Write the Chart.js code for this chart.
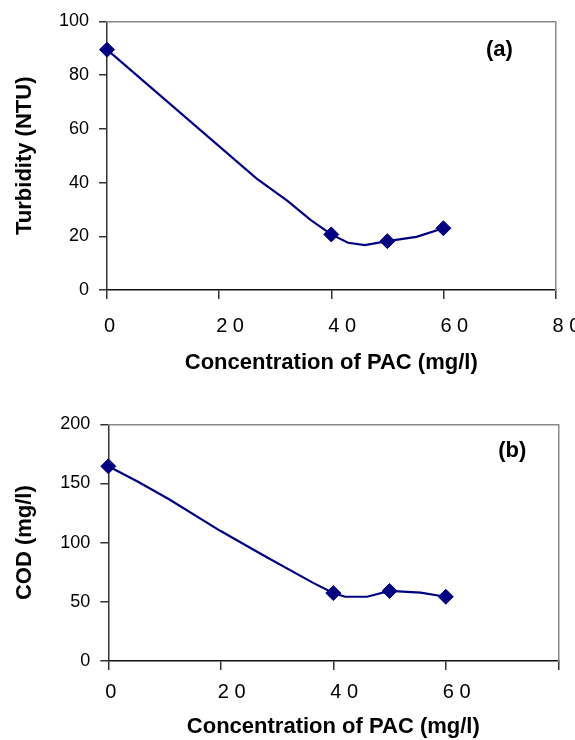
<!DOCTYPE html>
<html>
<head>
<meta charset="utf-8">
<script src="https://cdn.jsdelivr.net/npm/chart.js@4.4.0/dist/chart.umd.min.js"></script>
<style>
  html, body { margin: 0; padding: 0; background: #fff; }
  body { width: 575px; height: 740px; position: relative; overflow: hidden; }
  canvas { position: absolute; left: 0; }
  #chartA { top: 0; }
  #chartB { top: 390px; }
</style>
</head>
<body>
<canvas id="chartA" width="575" height="380"></canvas>
<canvas id="chartB" width="575" height="350"></canvas>
<script>
// PAC doses (mg/l) that were measured
const pacDose = [0, 40, 50, 60];
const turbidity = [89.5, 20.7, 18.2, 23.0];
const cod = [164.5, 57.4, 59.2, 54.3];

// the smoothed curve drawn through the samples
const curveDoseA = [0, 26.7, 32.2, 36.3, 40, 43, 46, 50, 55.2, 60];
const curveTurb = [89.5, 41.5, 33.2, 26.1, 20.7, 17.6, 16.7, 18.2, 19.8, 23.0];
const curveDoseB = [0, 5.2, 10.8, 19.9, 27.7, 36.5, 40, 42.1, 46, 50, 55.5, 60];
const curveCod = [164.5, 151.6, 136.7, 110, 88.9, 65.8, 57.4, 54.3, 54.3, 59.2, 57.7, 54.3];

const xTicksA = ['0', '2 0', '4 0', '6 0', '8 0'];
const xTicksB = ['0', '2 0', '4 0', '6 0', ''];

const navy = '#000080';
const sans = '"Liberation Sans", Arial, sans-serif';
const narrow = '"Liberation Sans Narrow", "Liberation Sans", Arial, sans-serif';

const toXY = (xs, ys) => xs.map((x, i) => ({ x: x, y: ys[i] }));

// writes the (a)/(b) tag inside the plot, placed in data units
const panelLabel = {
    id: 'panelLabel',
    afterDatasetsDraw(chart, args, opts) {
        const { ctx, scales } = chart;
        ctx.save();
        ctx.font = 'bold 22px ' + sans;
        ctx.fillStyle = '#000';
        ctx.textAlign = 'center';
        ctx.textBaseline = 'middle';
        ctx.fillText(opts.text, scales.x.getPixelForValue(opts.x), scales.y.getPixelForValue(opts.y));
        ctx.restore();
    }
};

const makeChart = function(id, p) {
    return new Chart(document.getElementById(id), {
        type: 'scatter',
        plugins: [panelLabel],
        data: {
            datasets: [{
                data: toXY(pacDose, p.values),
                pointStyle: 'rectRot',
                pointRadius: 7.5,
                backgroundColor: navy,
                borderColor: navy,
                borderWidth: 1,
                clip: false
            }, {
                data: toXY(p.curveX, p.curveY),
                showLine: true,
                borderColor: navy,
                borderWidth: 2.2,
                pointRadius: 0,
                tension: 0,
                clip: false
            }]
        },
        options: {
            responsive: false,
            animation: false,
            layout: { padding: { top: p.padTop, right: p.padRight, left: 0, bottom: 0 } },
            plugins: {
                legend: { display: false },
                tooltip: { enabled: false },
                panelLabel: p.label
            },
            scales: {
                x: {
                    type: 'linear',
                    position: 'bottom',
                    min: 0,
                    max: 80,
                    // fixed height, and let the last label run off the edge
                    afterFit: s => {
                        s.height = p.xHeight;
                        s.paddingLeft = 0;
                        s.paddingRight = 0;
                    },
                    grid: { drawOnChartArea: false, tickLength: 9, color: '#333', lineWidth: 1.5 },
                    border: { color: '#111', width: 1.5 },
                    ticks: {
                        stepSize: 20,
                        autoSkip: false,
                        maxRotation: 0,
                        align: 'start',
                        labelOffset: -3,
                        padding: p.xTickPad,
                        color: '#000',
                        font: { family: narrow, size: 20 },
                        callback: (v, i) => p.xLabels[i]
                    },
                    title: {
                        display: true,
                        text: 'Concentration of PAC (mg/l)',
                        color: '#000',
                        font: { family: sans, size: 22, weight: 'bold' },
                        padding: { top: 0, bottom: p.xTitlePad }
                    }
                },
                y: {
                    type: 'linear',
                    position: 'left',
                    min: 0,
                    max: p.yMax,
                    afterFit: s => { s.width = p.yWidth; },
                    grid: { drawOnChartArea: false, tickLength: 8, color: '#333', lineWidth: 1.5 },
                    border: { color: '#333', width: 1.5 },
                    ticks: {
                        stepSize: p.yStep,
                        padding: 10,
                        color: '#000',
                        font: { family: sans, size: 18 }
                    },
                    title: {
                        display: true,
                        text: p.yTitle,
                        color: '#000',
                        font: { family: sans, size: 22, weight: 'bold' },
                        padding: { top: 12, bottom: 0 }
                    }
                },
                // frame on the top and right side
                x2: {
                    type: 'linear',
                    position: 'top',
                    afterFit: s => { s.height = 0; },
                    grid: { display: false },
                    ticks: { display: false },
                    border: { color: '#888', width: 1.5 }
                },
                y2: {
                    type: 'linear',
                    position: 'right',
                    afterFit: s => { s.width = 0; },
                    grid: { display: false },
                    ticks: { display: false },
                    border: { color: '#888', width: 1.5 }
                }
            }
        }
    });
};

makeChart('chartA', {
    values: turbidity,
    curveX: curveDoseA,
    curveY: curveTurb,
    xLabels: xTicksA,
    yMax: 100,
    yStep: 20,
    yTitle: 'Turbidity (NTU)',
    label: { text: '(a)', x: 70, y: 89.3 },
    padTop: 21.5,
    padRight: 19.5,
    yWidth: 107,
    xHeight: 90,
    xTickPad: 15,
    xTitlePad: 4
});

makeChart('chartB', {
    values: cod,
    curveX: curveDoseB,
    curveY: curveCod,
    xLabels: xTicksB,
    yMax: 200,
    yStep: 50,
    yTitle: 'COD (mg/l)',
    label: { text: '(b)', x: 71.8, y: 177.4 },
    padTop: 34.3,
    padRight: 16.7,
    yWidth: 108.3,
    xHeight: 79,
    xTickPad: 10.5,
    xTitlePad: 0
});
</script>
</body>
</html>
